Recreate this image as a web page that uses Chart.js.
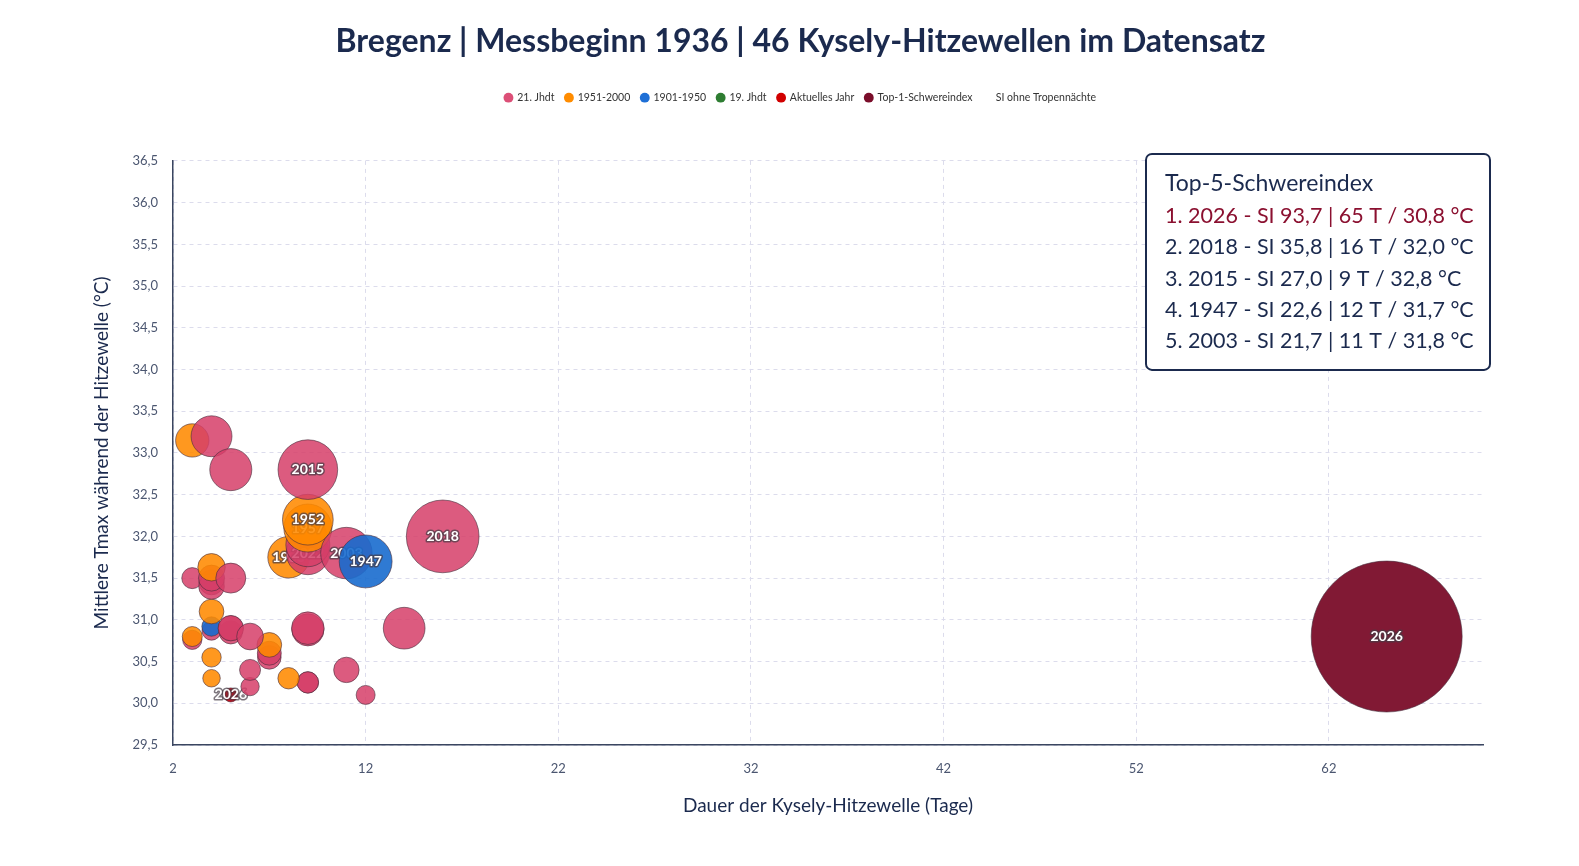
<!DOCTYPE html>
<html lang="de">
<head>
<meta charset="utf-8">
<title>Bregenz Hitzewellen</title>
<script src="https://cdn.jsdelivr.net/npm/chart.js@4.4.1/dist/chart.umd.min.js"></script>
<style>
	html, body { margin: 0; padding: 0; background: #fff; overflow: hidden; }
	#wrap { width: 1579px; height: 866px; }
	#myChart { display: block; }
</style>
</head>
<body>
<div id="wrap"><canvas id="myChart"></canvas></div>
<script>

var categories = ["21. Jhdt", "1951-2000", "1901-1950", "19. Jhdt", "Aktuelles Jahr", "Top-1-Schwereindex", "SI ohne Tropennächte"];

// 21. Jhdt
var jh21Days  = [4, 5, 9, 16, 11, 9, 9, 9, 9, 3, 4, 4, 4, 5, 4, 5, 5, 5, 6, 3, 7, 7, 9, 9, 14, 6, 6, 9, 9, 11, 12];
var jh21Temps = [33.2, 32.8, 32.8, 32.0, 31.8, 31.8, 32.0, 31.9, 31.95, 31.5, 31.5, 31.4, 31.45, 31.5, 30.87, 30.9, 30.9, 30.85, 30.8, 30.76, 30.6, 30.55, 30.9, 30.88, 30.9, 30.4, 30.2, 30.25, 30.25, 30.4, 30.1];
var jh21SI    = [15.1, 15.8, 27.0, 35.8, 21.7, 16.5, 13.5, 17.0, 12.5, 3.9, 6.5, 6.3, 6.0, 8.7, 2.9, 6.2, 5.8, 5.0, 6.9, 3.0, 5.4, 5.2, 10.2, 9.9, 15.6, 3.9, 2.6, 4.1, 4.0, 6.2, 2.9];
var jh21Years = ["", "", "2015", "2018", "2003", "2022", "", "", "", "", "", "", "", "", "", "", "", "", "", "", "", "", "", "", "", "", "", "", "", "", ""];

// 1951-2000
var y1951Days  = [3, 9, 9, 8, 4, 4, 3, 7, 4, 4, 8];
var y1951Temps = [33.15, 32.2, 32.1, 31.75, 31.63, 31.1, 30.8, 30.7, 30.55, 30.3, 30.3];
var y1951SI    = [10.6, 21.2, 19.5, 15.5, 7.3, 5.8, 3.4, 5.8, 3.1, 2.2, 4.1];
var y1951Years = ["", "1952", "1957", "1983", "", "", "", "", "", "", ""];

// 1901-1950
var y1901Days  = [12, 4];
var y1901Temps = [31.7, 30.92];
var y1901SI    = [22.6, 3.1];
var y1901Years = ["1947", ""];

// 19. Jhdt
var jh19Days  = [];
var jh19Temps = [];
var jh19SI    = [];
var jh19Years = [];

// Aktuelles Jahr
var currentDays  = [5];
var currentTemps = [30.1];
var currentSI    = [0.7];
var currentYears = ["2026"];

// Top-1-Schwereindex
var topDays  = [65];
var topTemps = [30.8];
var topSI    = [93.7];
var topYears = ["2026"];

var xTickValues = [2, 12, 22, 32, 42, 52, 62];
var yTickStep = 0.5;

var fillColors = ["rgba(214, 62, 104, 0.85)", "rgba(255, 138, 0, 0.88)", "rgba(24, 108, 206, 0.9)", "rgba(46, 125, 50, 0.88)", "rgba(200, 0, 16, 0.95)", "rgba(126, 20, 48, 0.98)", "rgba(0, 0, 0, 0)"];
var dotColors = ["#dc4f77", "#ff8c00", "#1e6fd6", "#2e7d32", "#d10000", "#7a0d2a", "rgba(0,0,0,0)"];

var navy = "#1b2a4e";

function radiusFor(si) {
	return 6 + 1.4 * Math.pow(si, 0.86);
}

function fmt(v) {
	return v.toFixed(1).replace(".", ",");
}

var groups = [
	[jh21Days, jh21Temps, jh21SI, jh21Years],
	[y1951Days, y1951Temps, y1951SI, y1951Years],
	[y1901Days, y1901Temps, y1901SI, y1901Years],
	[jh19Days, jh19Temps, jh19SI, jh19Years],
	[currentDays, currentTemps, currentSI, currentYears],
	[topDays, topTemps, topSI, topYears]
];

// all waves in one list, small ones drawn first so the big ones sit on top
var points = [];
groups.forEach(function(g, cat) {
	for (var i = 0; i < g[0].length; i++) {
		points.push({x: g[0][i], y: g[1][i], r: radiusFor(g[2][i]), si: g[2][i], label: g[3][i], cat: cat});
	}
});
points.sort(function(a, b) { return a.si - b.si; });

var top5 = points.slice().sort(function(a, b) { return b.si - a.si; }).slice(0, 5);

var datasets = categories.map(function(name, i) {
	return {
		label: name,
		data: [],
		xAxisID: "x",
		yAxisID: "y",
		backgroundColor: dotColors[i],
		borderWidth: 0
	};
});

datasets.push({
	label: "Hitzewellen",
	data: points,
	xAxisID: "x",
	yAxisID: "y",
	backgroundColor: function(c) { return c.raw ? fillColors[c.raw.cat] : "transparent"; },
	borderColor: "rgba(70, 45, 60, 0.6)",
	borderWidth: 1,
	showLabels: true
});

var bubbleLabels = {
	id: "bubbleLabels",
	beforeDatasetDraw: function(chart, args) {
		var ds = chart.data.datasets[args.index];
		if (!ds.showLabels) return;
		args.meta.data.forEach(function(el, i) {
			var txt = ds.data[i].label;
			if (!txt || el._labelled) return;
			var baseDraw = el.draw;
			el.draw = function(ctx, area) {
				baseDraw.call(this, ctx, area);
				ctx.save();
				ctx.font = "bold 14px Lato";
				ctx.textAlign = "center";
				ctx.textBaseline = "middle";
				ctx.lineJoin = "round";
				ctx.lineWidth = 3;
				ctx.strokeStyle = "rgba(70, 60, 70, 0.7)";
				ctx.strokeText(txt, this.x, this.y);
				ctx.fillStyle = "#ffffff";
				ctx.fillText(txt, this.x, this.y);
				ctx.restore();
			};
			el._labelled = true;
		});
	}
};

var infoBox = {
	id: "infoBox",
	afterDraw: function(chart) {
		var ctx = chart.ctx;
		var area = chart.chartArea;
		var w = 344, h = 216;
		var x = area.right + 7 - w, y = area.top - 7;
		ctx.save();
		ctx.beginPath();
		ctx.roundRect(x, y, w, h, 6);
		ctx.fillStyle = "#ffffff";
		ctx.fill();
		ctx.lineWidth = 2;
		ctx.strokeStyle = navy;
		ctx.stroke();
		ctx.textAlign = "left";
		ctx.textBaseline = "middle";
		ctx.font = "23px Lato";
		ctx.fillStyle = navy;
		ctx.fillText("Top-5-Schwereindex", x + 19, y + 30);
		ctx.font = "21.5px Lato";
		top5.forEach(function(p, i) {
			ctx.fillStyle = i === 0 ? "#8b1030" : navy;
			var line = (i + 1) + ". " + p.label + " - SI " + fmt(p.si) + " | " + p.x + " T / " + fmt(p.y) + " °C";
			ctx.fillText(line, x + 19, y + 62 + i * 31.4);
		});
		ctx.restore();
	}
};

var ctx = document.getElementById("myChart");

var myChart = new Chart(ctx, {
	type: "bubble",
	data: { datasets: datasets },
	options: {
		responsive: true,
		maintainAspectRatio: false,
		animation: false,
		events: [],
		layout: {
			padding: { left: 86, right: 64, top: 0, bottom: 45 }
		},
		font: { family: "Lato" },
		plugins: {
			title: {
				display: true,
				text: "Bregenz | Messbeginn 1936 | " + points.length + " Kysely-Hitzewellen im Datensatz",
				color: navy,
				font: { family: "Lato", size: 32, weight: "bold" },
				padding: { top: 22, bottom: 21 }
			},
			legend: {
				display: true,
				position: "top",
				labels: {
					usePointStyle: true,
					pointStyle: "circle",
					boxWidth: 7,
					boxHeight: 7,
					padding: 11,
					color: "#333",
					font: { family: "Lato", size: 10.5 },
					filter: function(item) { return item.datasetIndex < categories.length; }
				}
			},
			tooltip: { enabled: false }
		},
		scales: {
			x: {
				type: "linear",
				min: 2,
				max: 70,
				afterBuildTicks: function(s) {
					s.ticks = xTickValues.map(function(v) { return {value: v}; });
				},
				ticks: {
					color: "#4b5670",
					font: { family: "Lato", size: 13 },
					padding: 16,
					maxRotation: 0
				},
				grid: { color: "#dcdcec", lineWidth: 1, drawTicks: false },
				border: { display: true, color: "#3a4660", width: 1.5, dash: [4, 4] },
				title: {
					display: true,
					text: "Dauer der Kysely-Hitzewelle (Tage)",
					color: navy,
					font: { family: "Lato", size: 19 }
				},
				afterFit: function(s) { s.height = 76; }
			},
			y: {
				type: "linear",
				min: 29.5,
				max: 36.5,
				ticks: {
					stepSize: yTickStep,
					color: "#4b5670",
					font: { family: "Lato", size: 13 },
					padding: 15,
					callback: function(v) { return fmt(v); }
				},
				grid: { color: "#dcdcec", lineWidth: 1, drawTicks: false },
				border: { display: true, color: "#3a4660", width: 1.5, dash: [4, 4] },
				title: {
					display: true,
					text: "Mittlere Tmax während der Hitzewelle (°C)",
					color: navy,
					font: { family: "Lato", size: 19 }
				},
				afterFit: function(s) { s.width = 87; }
			},
			padTop: {
				axis: "x",
				type: "linear",
				position: "top",
				display: true,
				grid: { display: false, drawTicks: false },
				border: { display: false },
				ticks: { display: false },
				afterFit: function(s) { s.height = 48; }
			},
			padRight: {
				axis: "y",
				type: "linear",
				position: "right",
				display: true,
				grid: { display: false, drawTicks: false },
				border: { display: false },
				ticks: { display: false },
				afterFit: function(s) { s.width = 32; }
			}
		}
	},
	plugins: [bubbleLabels, infoBox]
});

</script>
</body>
</html>
